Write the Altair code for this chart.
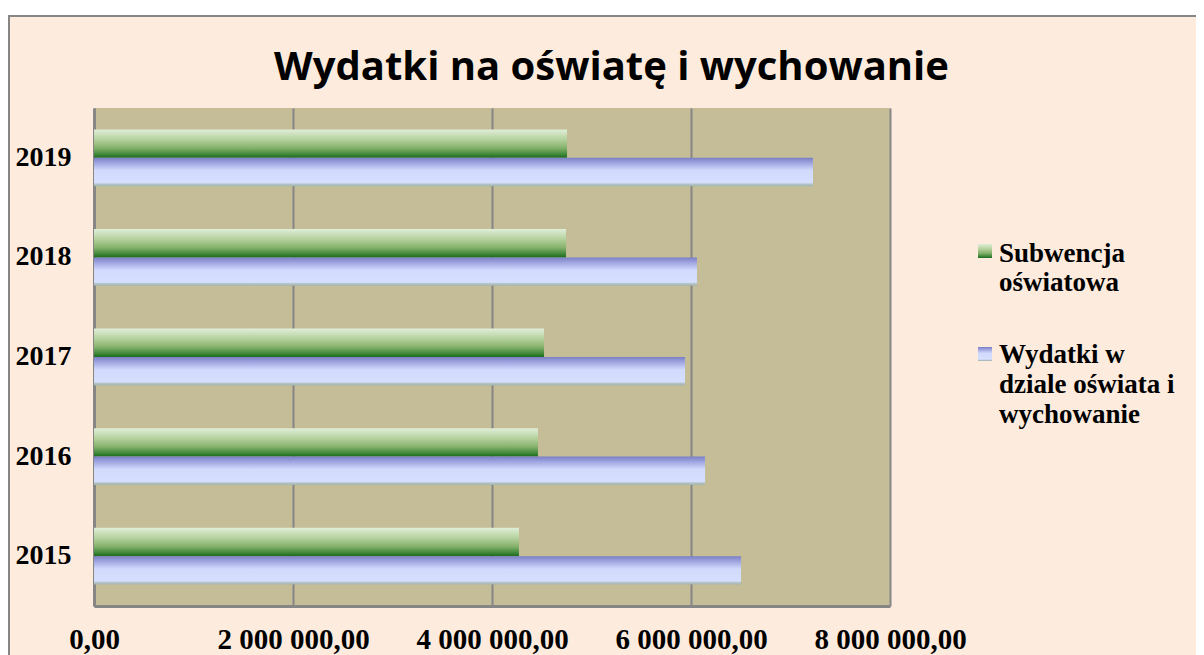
import altair as alt
import pandas as pd

# ---- data ----
years = ["2015", "2016", "2017", "2018", "2019"]
subwencja = [4271000, 4462000, 4523000, 4744000, 4754000]
wydatki = [6503000, 6141000, 5940000, 6060000, 7226000]
series_names = ["Subwencja oświatowa", "Wydatki w dziale oświata i wychowanie"]
legend_lines = [["Subwencja", "oświatowa"], ["Wydatki w", "dziale oświata i", "wychowanie"]]
tick_values = [0, 2000000, 4000000, 6000000, 8000000]
tick_labels = ["0,00", "2 000 000,00", "4 000 000,00", "6 000 000,00", "8 000 000,00"]
title_text = "Wydatki na oświatę i wychowanie"

df = pd.DataFrame({
    "year": years + years,
    "series": [series_names[0]] * len(years) + [series_names[1]] * len(years),
    "value": subwencja + wydatki,
})

# ---- styles ----
GRAY = "#868686"
TINT = "#fdebdd"
PLOT_BG = "#c4bd97"
SERIF = "Liberation Serif"

green_grad = {
    "gradient": "linear", "x1": 0, "x2": 0, "y1": 0, "y2": 1,
    "stops": [
        {"offset": 0.0, "color": "#e0eed8"},
        {"offset": 0.35, "color": "#b6d29f"},
        {"offset": 0.65, "color": "#86b26c"},
        {"offset": 0.88, "color": "#3f873a"},
        {"offset": 1.0, "color": "#1b6a1b"},
    ],
}
blue_grad = {
    "gradient": "linear", "x1": 0, "x2": 0, "y1": 0, "y2": 1,
    "stops": [
        {"offset": 0.0, "color": "#7a7fc6"},
        {"offset": 0.2, "color": "#a3a9e2"},
        {"offset": 0.45, "color": "#d2dafd"},
        {"offset": 0.88, "color": "#d6dffe"},
        {"offset": 0.92, "color": "#b6c6cc"},
        {"offset": 1.0, "color": "#a2b5ae"},
    ],
}

label_expr = " : ".join(
    f"datum.value == {v} ? '{l}'" for v, l in zip(tick_values, tick_labels)
) + " : ''"

x_enc = alt.X(
    "value:Q",
    scale=alt.Scale(domain=[tick_values[0], tick_values[-1]], nice=False),
    axis=alt.Axis(
        values=tick_values, labelExpr=label_expr, title=None, grid=True,
        gridColor=GRAY, gridWidth=2, ticks=False, domainColor=GRAY, domainWidth=3,
        labelFont=SERIF, labelFontWeight="bold", labelFontSize=29, labelColor="black",
        labelPadding=19, labelFlush=False, labelOverlap=False,
    ),
)
y_enc = alt.Y(
    "year:N",
    sort="descending",
    scale=alt.Scale(paddingInner=0.43, paddingOuter=0.215),
    axis=alt.Axis(
        title=None, ticks=False, domainColor=GRAY, domainWidth=3, grid=False,
        labelFont=SERIF, labelFontWeight="bold", labelFontSize=28, labelColor="black",
        labelPadding=23,
    ),
)
yoff_enc = alt.YOffset("series:N", sort=series_names, scale=alt.Scale(domain=series_names))

base = alt.Chart(df)
green = base.transform_filter(alt.datum.series == series_names[0]).mark_bar(
    fill=green_grad).encode(x=x_enc, y=y_enc, yOffset=yoff_enc)
blue = base.transform_filter(alt.datum.series == series_names[1]).mark_bar(
    fill=blue_grad).encode(x=x_enc, y=y_enc, yOffset=yoff_enc)

one = alt.Data(values=[{"k": 0}])

white_strip = alt.Chart(one).mark_rect(fill="white").encode(
    x=alt.value(-90), x2=alt.value(1200), y=alt.value(-104), y2=alt.value(-93))
frame = alt.Chart(one).mark_rect(fillOpacity=0, stroke=GRAY, strokeWidth=2).encode(
    x=alt.value(-85), x2=alt.value(1300), y=alt.value(-92), y2=alt.value(700))

title = alt.Chart(one).mark_text(
    text=title_text, font="Open Sans", fontWeight="bold", fontSize=40,
    align="center", baseline="alphabetic", color="black",
).encode(x=alt.value(517.5), y=alt.value(-28))

sw1 = alt.Chart(one).mark_rect(fill=green_grad).encode(
    x=alt.value(884), x2=alt.value(898), y=alt.value(136), y2=alt.value(150))
sw2 = alt.Chart(one).mark_rect(fill=blue_grad).encode(
    x=alt.value(884), x2=alt.value(898), y=alt.value(239), y2=alt.value(253))

leg1 = alt.Chart(one).mark_text(
    text=legend_lines[0], font=SERIF, fontWeight="bold", fontSize=27, lineHeight=29,
    align="left", baseline="alphabetic", color="black",
).encode(x=alt.value(905), y=alt.value(154))
leg2 = alt.Chart(one).mark_text(
    text=legend_lines[1], font=SERIF, fontWeight="bold", fontSize=27, lineHeight=30,
    align="left", baseline="alphabetic", color="black",
).encode(x=alt.value(905), y=alt.value(255))

chart = alt.layer(
    white_strip, frame, green, blue, title, sw1, sw2, leg1, leg2
).properties(
    width=796, height=498, background=TINT,
    padding={"left": 86, "top": 100, "right": 306, "bottom": 49},
    autosize=alt.AutoSizeParams(type="none"),
).configure_view(stroke=None, fill=PLOT_BG)

chart.save("out.html", embed_options={"renderer": "svg", "actions": False})
